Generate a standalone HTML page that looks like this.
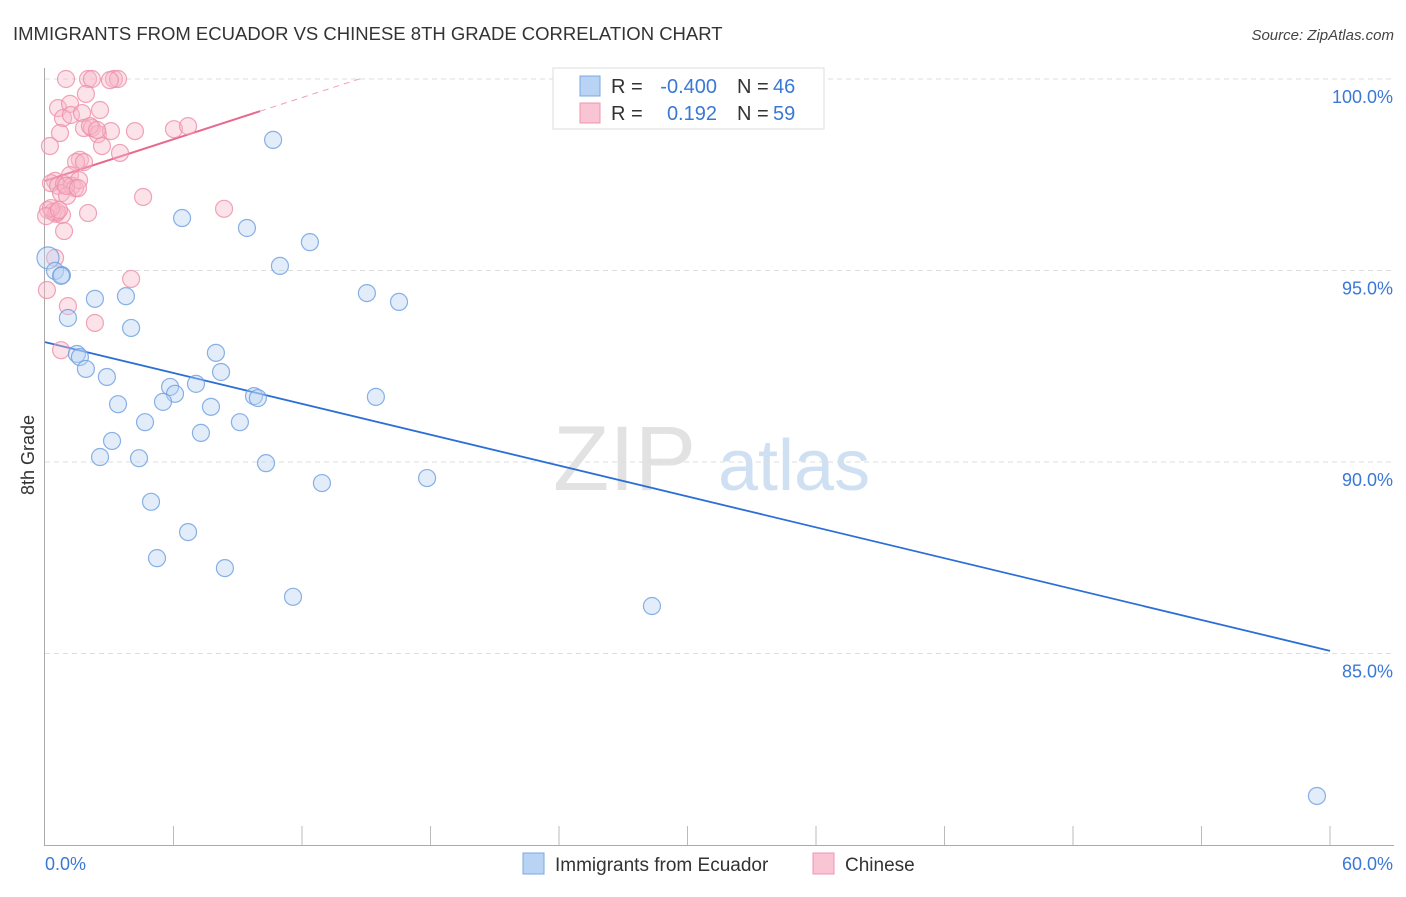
<!DOCTYPE html>
<html><head><meta charset="utf-8"><style>
body{margin:0;background:#fff;font-family:"Liberation Sans",sans-serif}
svg text{font-family:"Liberation Sans",sans-serif}
</style></head><body>
<svg id="chart" width="1406" height="892" xmlns="http://www.w3.org/2000/svg">
<text x="13" y="40" font-size="18.5" fill="#333">IMMIGRANTS FROM ECUADOR VS CHINESE 8TH GRADE CORRELATION CHART</text>
<text x="1394" y="40" font-size="15" fill="#444" text-anchor="end" font-style="italic">Source: ZipAtlas.com</text>
<text transform="translate(34,455) rotate(-90)" font-size="18" fill="#333" text-anchor="middle">8th Grade</text>
<g>
<text x="553" y="490" font-size="92" fill="#e2e2e2" font-family="Liberation Serif,serif">ZIP</text>
<text x="718" y="490" font-size="72" fill="#cfe0f2">atlas</text>
</g>
<g id="grid"></g><g id="axes"></g><g id="lines"></g><g id="pts"></g>
<g>
<rect x="553" y="68" width="271" height="61" fill="#fff" stroke="#ddd"/>
<rect x="580" y="76" width="20" height="20" fill="#b8d3f3" stroke="#7aa8e0"/>
<rect x="580" y="103" width="20" height="20" fill="#f9c4d3" stroke="#ec96b0"/>
<text x="611" y="93" font-size="20" fill="#333">R =</text>
<text x="717" y="93" font-size="20" fill="#3a78d6" text-anchor="end">-0.400</text>
<text x="737" y="93" font-size="20" fill="#333">N =</text>
<text x="773" y="93" font-size="20" fill="#3a78d6">46</text>
<text x="611" y="120" font-size="20" fill="#333">R =</text>
<text x="717" y="120" font-size="20" fill="#3a78d6" text-anchor="end">0.192</text>
<text x="737" y="120" font-size="20" fill="#333">N =</text>
<text x="773" y="120" font-size="20" fill="#3a78d6">59</text>
</g>
<g><rect x="523" y="853" width="21" height="21" fill="#b8d3f3" stroke="#7aa8e0"/><text x="555" y="871" font-size="19" fill="#333">Immigrants from Ecuador</text></g>
<g><rect x="813" y="853" width="21" height="21" fill="#f9c4d3" stroke="#ec96b0"/><text x="845" y="871" font-size="19" fill="#333">Chinese</text></g>
</svg>
<script>
const yTicks=[100,95,90,85];
const xTickLabels=["0.0%","60.0%"];
const blueX=[0.14,0.47,0.79,1.07,2.33,3.78,4.02,1.49,1.63,1.91,2.89,5.84,6.07,7.05,5.51,3.41,4.67,7.75,7.98,8.22,9.10,9.76,9.94,7.28,3.13,2.57,4.39,10.32,12.93,17.84,4.95,6.68,5.23,8.40,11.58,28.34,6.40,9.43,10.97,12.37,10.65,15.03,16.53,15.45,59.39,0.75];
const blueY=[95.33,94.99,94.88,93.76,94.26,94.33,93.50,92.82,92.74,92.43,92.22,91.96,91.78,92.04,91.57,91.51,91.04,91.44,92.85,92.35,91.04,91.72,91.67,90.76,90.55,90.13,90.10,89.97,89.45,89.58,88.96,88.17,87.49,87.23,86.48,86.24,96.37,96.11,95.12,95.74,98.41,94.41,94.18,91.70,81.28,94.86];
const pinkX=[0.98,2.01,2.19,3.22,3.41,3.03,1.91,0.61,1.17,2.57,0.84,1.21,1.73,0.70,1.82,2.19,2.47,3.08,0.23,2.66,3.50,4.20,6.02,6.68,1.63,1.45,1.82,0.47,0.28,0.61,0.89,1.17,1.26,1.40,0.75,1.59,1.03,4.58,8.36,0.14,0.37,0.51,0.79,2.01,0.56,0.89,4.02,0.47,0.09,1.07,2.33,0.75,2.10,2.43,0.98,1.54,0.28,0.05,0.65];
const pinkY=[100,100,100,100,100,99.97,99.61,99.24,99.35,99.19,98.98,99.06,99.11,98.59,98.72,98.72,98.56,98.64,98.25,98.25,98.07,98.64,98.69,98.77,97.89,97.83,97.83,97.34,97.28,97.21,97.26,97.49,97.21,97.15,97.02,97.36,96.95,96.92,96.61,96.58,96.53,96.48,96.45,96.50,96.53,96.03,94.78,95.33,94.49,94.07,93.63,92.92,98.77,98.67,97.21,97.15,96.63,96.42,96.58];
const blueTrend=[93.13,85.07];
const pinkTrend=[97.34,99.16,10.04];
const NS="http://www.w3.org/2000/svg";
const sx=v=>45+v*(1285/60), sy=v=>79+(100-v)*38.3;
function mk(p,t,a){const e=document.createElementNS(NS,t);for(const k in a)e.setAttribute(k,a[k]);document.getElementById(p).appendChild(e);return e;}
yTicks.forEach(t=>{
 const l=mk('grid','line',{x1:45,x2:1394,y1:sy(t),y2:sy(t),stroke:'#ddd','stroke-dasharray':'5,4'});
 
 
 const tx=mk('grid','text',{x:1393,y:sy(t)+24,'font-size':18,fill:'#3a78d6','text-anchor':'end'});tx.textContent=t.toFixed(1)+'%';
 
 
});
const ax=mk('axes','path',{d:'M44.5 68V845.5H1394',stroke:'#aaa',fill:'none'});


for(let i=1;i<=10;i++){const x=sx(i*6);const t=mk('axes','line',{x1:x,x2:x,y1:826,y2:845,stroke:'#bbb'});
 
 }
const x0=mk('axes','text',{x:45,y:870,'font-size':18,fill:'#3a78d6'});x0.textContent=xTickLabels[0];


const x1=mk('axes','text',{x:1393,y:870,'font-size':18,fill:'#3a78d6','text-anchor':'end'});x1.textContent=xTickLabels[1];


function pts(X,Y,fill,stroke,name){X.forEach((x,i)=>{const c=mk('pts','circle',{cx:sx(x),cy:sy(Y[i]),r:(name==='ecuador-point'&&i===0)?11:8.5,fill:fill,'fill-opacity':0.4,stroke:stroke,'stroke-opacity':0.8,'stroke-width':1.2});
 
 });}
pts(pinkX,pinkY,'#f7b6c9','#ec8fa8','chinese-point');
pts(blueX,blueY,'#b8d3f3','#6b9ee0','ecuador-point');
const bl=mk('lines','line',{x1:sx(0),y1:sy(blueTrend[0]),x2:sx(60),y2:sy(blueTrend[1]),stroke:'#2b6fd6','stroke-width':1.8});


const sl=(pinkTrend[1]-pinkTrend[0])/pinkTrend[2];
const pl=mk('lines','line',{x1:sx(0),y1:sy(pinkTrend[0]),x2:sx(pinkTrend[2]),y2:sy(pinkTrend[1]),stroke:'#e8688e','stroke-width':2});


const xe=(100.03-pinkTrend[0])/sl;
const pd=mk('lines','line',{x1:sx(pinkTrend[2]),y1:sy(pinkTrend[1]),x2:sx(xe),y2:sy(100.03),stroke:'#eea0b5','stroke-width':1,'stroke-dasharray':'6,5'});


</script>
</body></html>
